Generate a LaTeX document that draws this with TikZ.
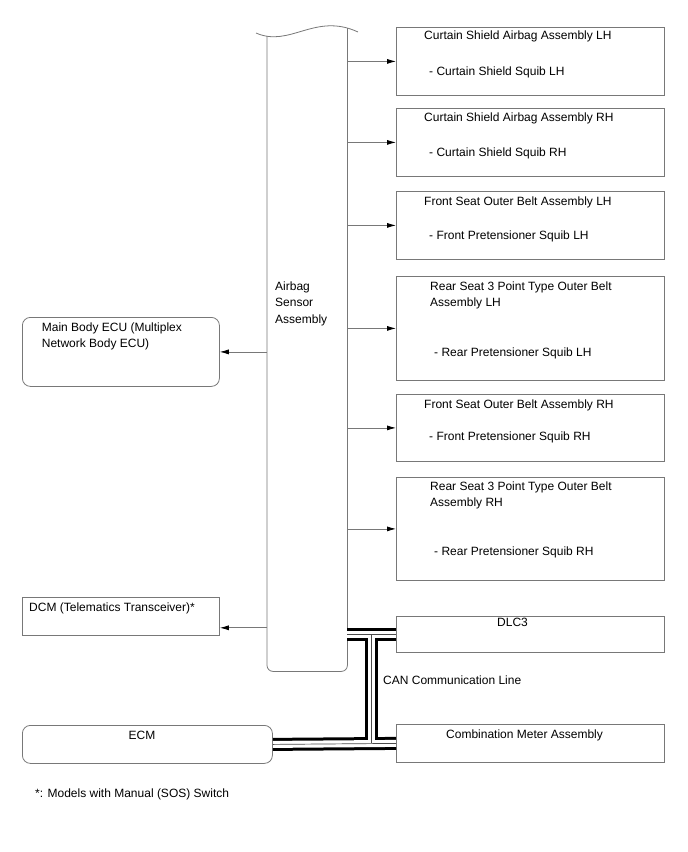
\documentclass[tikz,border=0pt]{standalone}
\usepackage{fontspec}
\setmainfont{Liberation Sans}
\usetikzlibrary{arrows.meta,calc}
\definecolor{edgegray}{RGB}{120,120,120}

\begin{document}
\begin{tikzpicture}[x=1pt,y=-1pt,
  font=\fontsize{12}{16.7}\selectfont,
  unit/.style={draw=edgegray,line width=0.8pt,rectangle,inner sep=0pt,anchor=north west},
  unitr/.style={unit,rounded corners=8pt},
  lbl/.style={inner sep=0pt,anchor=base west,align=left},
  link/.style={draw=edgegray,line width=0.8pt,-{Latex[length=9pt,width=5pt,color=black]}}]
\useasboundingbox (0,0) rectangle (688,852);

% airbag sensor assembly (wavy top, open column)
\node[inner sep=0pt,minimum width=80pt,minimum height=643pt,anchor=north west] (sensor) at (267,28) {};
\draw[edgegray,line width=0.8pt,rounded corners=6pt] ([yshift=-8pt]sensor.north west) -- (sensor.south west) -- (sensor.south east) -- (sensor.north east);
\draw[edgegray,line width=0.8pt] (256,33) .. controls (290,48) and (315,12) .. (358,32);
% base of a multi-line label = its last line
\node[lbl] (sensort) at (275,323.4) {Airbag\\Sensor\\Assembly};

% squib side
\node[unit,minimum width=268pt,minimum height=68pt] (csLH) at (396,27) {};
\node[lbl] (csLHt) at (424,39) {Curtain Shield Airbag Assembly LH};
\node[lbl] (csLHs) at (429,75) {- Curtain Shield Squib LH};

\node[unit,minimum width=268pt,minimum height=68pt] (csRH) at (396,108) {};
\node[lbl] (csRHt) at (424,121) {Curtain Shield Airbag Assembly RH};
\node[lbl] (csRHs) at (429,156) {- Curtain Shield Squib RH};

\node[unit,minimum width=268pt,minimum height=68pt] (fsLH) at (396,191) {};
\node[lbl] (fsLHt) at (424,205) {Front Seat Outer Belt Assembly LH};
\node[lbl] (fsLHs) at (429,239) {- Front Pretensioner Squib LH};

\node[unit,minimum width=268pt,minimum height=104pt] (rsLH) at (396,276) {};
\node[lbl] (rsLHt) at (430,306.7) {Rear Seat 3 Point Type Outer Belt\\Assembly LH};
\node[lbl] (rsLHs) at (434,356) {- Rear Pretensioner Squib LH};

\node[unit,minimum width=268pt,minimum height=67pt] (fsRH) at (396,394) {};
\node[lbl] (fsRHt) at (424,408) {Front Seat Outer Belt Assembly RH};
\node[lbl] (fsRHs) at (429,440) {- Front Pretensioner Squib RH};

\node[unit,minimum width=268pt,minimum height=103pt] (rsRH) at (396,477) {};
\node[lbl] (rsRHt) at (430,506.7) {Rear Seat 3 Point Type Outer Belt\\Assembly RH};
\node[lbl] (rsRHs) at (434,555) {- Rear Pretensioner Squib RH};

\foreach \b in {csLH,csRH,fsLH,rsLH,fsRH,rsRH}
  \draw[link] (sensor.east |- \b.west) -- (\b.west);

% body side
\node[unitr,minimum width=197pt,minimum height=69pt] (body) at (22,317) {};
\node[lbl] (bodyt) at (41.7,347.7) {Main Body ECU (Multiplex\\Network Body ECU)};
\draw[link] (sensor.west |- body.east) -- (body.east);

\node[unit,minimum width=197pt,minimum height=38pt] (dcm) at (22,597) {};
\node[lbl] (dcmt) at (29,611) {DCM (Telematics Transceiver)*};
\coordinate (dcmin) at ($(dcm.south east)+(0,-8)$);
\draw[link] (sensor.west |- dcmin) -- (dcmin);

% CAN
\node[unit,minimum width=268pt,minimum height=36pt] (dlc) at (396,616) {};
\node[lbl] (dlct) at (497,626) {DLC3};
\node[unit,minimum width=268pt,minimum height=38pt] (meter) at (396,724) {};
\node[lbl] (metert) at (446,738) {Combination Meter Assembly};
\node[unitr,minimum width=250pt,minimum height=38pt] (ecm) at (22,725) {};
\node[inner sep=0pt,anchor=base] (ecmt) at (142,739) {ECM};
\node[lbl] (canl) at (383,684) {CAN Communication Line};

\coordinate (tap) at ($(sensor.east |- dlc.west)!.5!(dlc.west)$);
\foreach \w/\c in {13pt/black,7pt/white,0.7pt/black!70}{
  \draw[line width=\w,draw=\c] (sensor.east |- dlc.west) -- (dlc.west);
  \draw[line width=\w,draw=\c] (tap) -- (tap |- meter.west);
  \draw[line width=\w,draw=\c] (ecm.east) -- (meter.west);
}

\node[lbl] (note) at (35,797) {*: Models with Manual (SOS) Switch};
\end{tikzpicture}
\end{document}
